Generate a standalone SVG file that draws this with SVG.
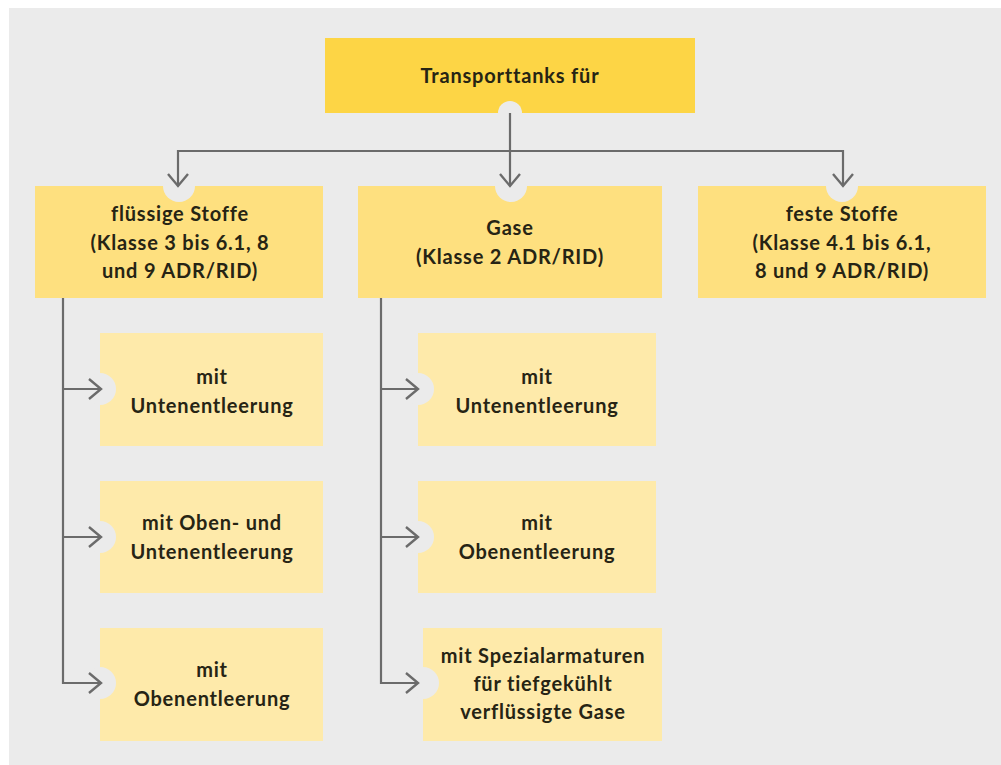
<svg xmlns="http://www.w3.org/2000/svg" width="1001" height="765" viewBox="0 0 1001 765">
<style>
.t{font-family:Lato,"Noto Sans",sans-serif;font-weight:700;font-size:20px;letter-spacing:0.8px;fill:#262414;text-anchor:middle}
.c{fill:none;stroke:#6b6b6b;stroke-width:2.2}
.l0{fill:#fdd545}
.l1{fill:#fee07f}
.l2{fill:#feeaaa}
.n{fill:#ebebeb}
</style>
<defs>
<marker id="ah" viewBox="0 0 16 24" refX="14" refY="12" markerWidth="16" markerHeight="24" markerUnits="userSpaceOnUse" orient="auto">
<path d="M2,2 L14,12 L2,22" fill="none" stroke="#6b6b6b" stroke-width="2.4"/>
</marker>
</defs>
<rect x="9" y="8" width="992" height="757" fill="#ebebeb"/>

<g id="top">
<rect class="l0" x="325" y="38" width="370" height="75"/>
<circle class="n" cx="510" cy="113" r="12"/>
<text class="t" x="510" y="83">Transporttanks für</text>
</g>

<g id="fluessig">
<rect class="l1" x="35" y="186" width="288" height="112"/>
<circle class="n" cx="179" cy="186" r="16"/>
<text class="t" x="180" y="221">flüssige Stoffe</text>
<text class="t" x="180" y="250">(Klasse 3 bis 6.1, 8</text>
<text class="t" x="180" y="278">und 9 ADR/RID)</text>
</g>

<g id="gase">
<rect class="l1" x="358" y="186" width="304" height="112"/>
<circle class="n" cx="511" cy="186" r="16"/>
<text class="t" x="510" y="235">Gase</text>
<text class="t" x="510" y="264">(Klasse 2 ADR/RID)</text>
</g>

<g id="fest">
<rect class="l1" x="698" y="186" width="288" height="112"/>
<circle class="n" cx="842" cy="186" r="16"/>
<text class="t" x="842" y="221">feste Stoffe</text>
<text class="t" x="842" y="250">(Klasse 4.1 bis 6.1,</text>
<text class="t" x="842" y="278">8 und 9 ADR/RID)</text>
</g>

<g id="f1">
<rect class="l2" x="100" y="333" width="223" height="113"/>
<circle class="n" cx="100" cy="389" r="16"/>
<text class="t" x="212" y="384">mit</text>
<text class="t" x="212" y="413">Untenentleerung</text>
</g>
<g id="f2">
<rect class="l2" x="100" y="481" width="223" height="112"/>
<circle class="n" cx="100" cy="537" r="16"/>
<text class="t" x="212" y="530">mit Oben- und</text>
<text class="t" x="212" y="559">Untenentleerung</text>
</g>
<g id="f3">
<rect class="l2" x="100" y="628" width="223" height="113"/>
<circle class="n" cx="100" cy="683" r="16"/>
<text class="t" x="212" y="677">mit</text>
<text class="t" x="212" y="706">Obenentleerung</text>
</g>

<g id="g1">
<rect class="l2" x="418" y="333" width="238" height="113"/>
<circle class="n" cx="418" cy="389" r="16"/>
<text class="t" x="537" y="384">mit</text>
<text class="t" x="537" y="413">Untenentleerung</text>
</g>
<g id="g2">
<rect class="l2" x="418" y="481" width="238" height="112"/>
<circle class="n" cx="418" cy="537" r="16"/>
<text class="t" x="537" y="530">mit</text>
<text class="t" x="537" y="559">Obenentleerung</text>
</g>
<g id="g3">
<rect class="l2" x="423" y="628" width="239" height="113"/>
<circle class="n" cx="423" cy="683" r="16"/>
<text class="t" x="543" y="663">mit Spezialarmaturen</text>
<text class="t" x="543" y="691">für tiefgekühlt</text>
<text class="t" x="543" y="719">verflüssigte Gase</text>
</g>

<g id="connectors">
<path class="c" d="M510,113 V186" marker-end="url(#ah)"/>
<path class="c" d="M178,151 H843"/>
<path class="c" d="M178,150 V186" marker-end="url(#ah)"/>
<path class="c" d="M843,150 V186" marker-end="url(#ah)"/>
<path class="c" d="M63,298 V683 H101" marker-end="url(#ah)"/>
<path class="c" d="M63,389 H101" marker-end="url(#ah)"/>
<path class="c" d="M63,537 H101" marker-end="url(#ah)"/>
<path class="c" d="M381,298 V683 H418" marker-end="url(#ah)"/>
<path class="c" d="M381,389 H418" marker-end="url(#ah)"/>
<path class="c" d="M381,537 H418" marker-end="url(#ah)"/>
</g>
</svg>
